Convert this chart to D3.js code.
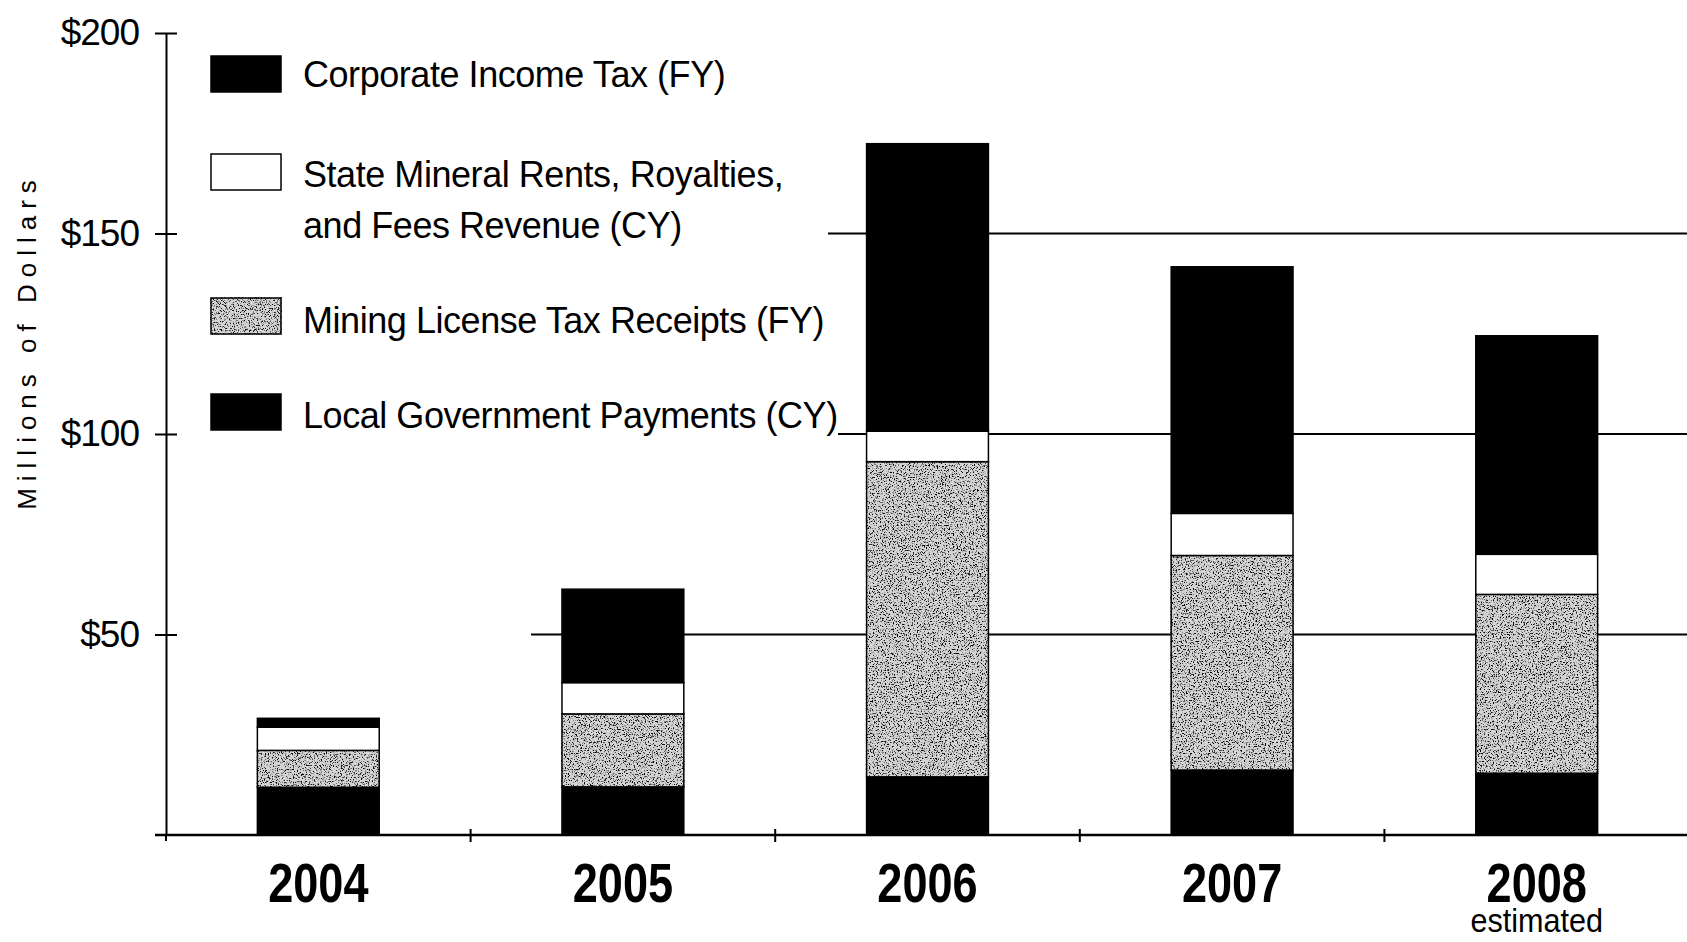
<!DOCTYPE html>
<html>
<head>
<meta charset="utf-8">
<script src="https://cdn.jsdelivr.net/npm/d3@7"></script>
<style>
body { margin: 0; background: #fff; }
text { font-family: "Liberation Sans", Arial, Helvetica, sans-serif; fill: #000; }
</style>
</head>
<body>
<svg id="chart" width="1687" height="942"></svg>
<script>
var years = ["2004", "2005", "2006", "2007", "2008"];
var yearNotes = ["", "", "", "", "estimated"];
// millions of dollars, stacked bottom to top
var localGov = [11.9, 12.0, 14.5, 16.2, 15.4];
var miningTax = [9.2, 18.2, 78.6, 53.5, 44.6];
var stateMineral = [5.8, 7.8, 7.6, 10.5, 10.0];
var corpTax = [2.2, 23.3, 71.7, 61.5, 54.5];
var yTicks = [50, 100, 150, 200];
var gridTicks = [50, 100, 150];
var seriesKeys = ["local", "mining", "state", "corp"];
var legendKeys = ["corp", "state", "mining", "local"];
var legendLabels = [["Corporate Income Tax (FY)"],
	["State Mineral Rents, Royalties,", "and Fees Revenue (CY)"],
	["Mining License Tax Receipts (FY)"],
	["Local Government Payments (CY)"]];

var width = 1687, height = 942;
var svg = d3.select("#chart");

var x = d3.scaleBand().domain(years).range([166, 1689]).paddingInner(0.6).paddingOuter(0.3);
var y = d3.scaleLinear().domain([0, 200]).range([835, 33]);

var fills = {corp: "#000", state: "#fff", mining: "#d4d4d4", local: "#000"};

// speckled, photocopy-like texture for the mining tax segments
var filt = svg.append("defs").append("filter")
	.attr("id", "speckle")
	.attr("x", -0.05).attr("y", -0.05).attr("width", 1.1).attr("height", 1.1)
	.attr("color-interpolation-filters", "sRGB");
filt.append("feTurbulence")
	.attr("type", "fractalNoise").attr("baseFrequency", 0.75).attr("numOctaves", 3).attr("seed", 7)
	.attr("result", "noise");
filt.append("feColorMatrix")
	.attr("in", "noise").attr("type", "matrix")
	.attr("values", "0 0 0 0 0  0 0 0 0 0  0 0 0 0 0  6 0 0 0 -3.2")
	.attr("result", "specks");
filt.append("feComposite")
	.attr("in", "specks").attr("in2", "SourceGraphic").attr("operator", "in")
	.attr("result", "clipped");
var merge = filt.append("feMerge");
merge.append("feMergeNode").attr("in", "SourceGraphic");
merge.append("feMergeNode").attr("in", "clipped");

// gridlines start to the right of the legend
var gridStart = {50: 531, 100: 838, 150: 828};
svg.append("g").selectAll("line")
	.data(gridTicks)
	.join("line")
	.attr("x1", function(d) { return gridStart[d]; })
	.attr("x2", width)
	.attr("y1", function(d) { return y(d); })
	.attr("y2", function(d) { return y(d); })
	.attr("stroke", "#000")
	.attr("stroke-width", 2);

var table = years.map(function(yr, i) {
	return {year: yr, local: localGov[i], mining: miningTax[i], state: stateMineral[i], corp: corpTax[i]};
});
var stacked = d3.stack().keys(seriesKeys)(table);

svg.append("g").selectAll("g")
	.data(stacked)
	.join("g")
	.attr("fill", function(d) { return fills[d.key]; })
	.attr("filter", function(d) { return d.key == "mining" ? "url(#speckle)" : null; })
	.selectAll("rect")
	.data(function(d) { return d; })
	.join("rect")
	.attr("x", function(d) { return x(d.data.year); })
	.attr("width", x.bandwidth())
	.attr("y", function(d) { return y(d[1]); })
	.attr("height", function(d) { return y(d[0]) - y(d[1]); })
	.attr("stroke", "#000")
	.attr("stroke-width", 1.5);

// y axis, ticks cross the line
var yAxis = svg.append("g")
	.attr("transform", "translate(166,0)")
	.call(d3.axisLeft(y).tickValues(yTicks).tickSize(11).tickSizeOuter(0).tickPadding(16)
		.tickFormat(function(d) { return "$" + d; }));
yAxis.attr("font-family", null).attr("font-size", null);
yAxis.select(".domain").attr("stroke", "#000").attr("stroke-width", 2);
yAxis.selectAll(".tick line").attr("x1", 11).attr("stroke", "#000").attr("stroke-width", 2);
yAxis.selectAll(".tick text").attr("font-size", 37).attr("letter-spacing", -1).attr("fill", "#000");
yAxis.append("line").attr("x1", 0).attr("x2", 0).attr("y1", y(0)).attr("y2", y(0) + 6)
	.attr("stroke", "#000").attr("stroke-width", 2);

// x axis with ticks between bars
var gap = x.step() - x.bandwidth();
svg.append("line")
	.attr("x1", 155).attr("x2", width)
	.attr("y1", y(0)).attr("y2", y(0))
	.attr("stroke", "#000").attr("stroke-width", 2.5);
svg.append("g").selectAll("line")
	.data(years.slice(1))
	.join("line")
	.attr("x1", function(d) { return x(d) - gap / 2; })
	.attr("x2", function(d) { return x(d) - gap / 2; })
	.attr("y1", y(0) - 6).attr("y2", y(0) + 7)
	.attr("stroke", "#000").attr("stroke-width", 2);

// condensed bold year labels
svg.append("g").selectAll("text")
	.data(years)
	.join("text")
	.attr("transform", function(d) { return "translate(" + (x(d) + x.bandwidth() / 2) + ",902) scale(0.82,1)"; })
	.attr("text-anchor", "middle")
	.attr("font-size", 55)
	.attr("font-weight", "bold")
	.text(function(d) { return d; });

svg.append("g").selectAll("text")
	.data(years)
	.join("text")
	.attr("transform", function(d) { return "translate(" + (x(d) + x.bandwidth() / 2) + ",932) scale(0.9,1)"; })
	.attr("text-anchor", "middle")
	.attr("font-size", 34)
	.text(function(d, i) { return yearNotes[i]; });

svg.append("text")
	.attr("transform", "translate(36,345) rotate(-90)")
	.attr("text-anchor", "middle")
	.attr("dx", 3.5)
	.attr("font-size", 26)
	.attr("letter-spacing", 7)
	.text("Millions of Dollars");

// legend
var swatchY = [56, 154, 298, 394];
var labelY = [[87], [187, 238], [333], [428]];
var legend = svg.append("g").selectAll("g")
	.data(legendKeys)
	.join("g");
legend.append("rect")
	.attr("x", 211)
	.attr("y", function(d, i) { return swatchY[i]; })
	.attr("width", 70)
	.attr("height", 36)
	.attr("fill", function(d) { return fills[d]; })
	.attr("filter", function(d) { return d == "mining" ? "url(#speckle)" : null; })
	.attr("stroke", "#000")
	.attr("stroke-width", 1.5);
legend.each(function(d, i) {
	d3.select(this).selectAll("text")
		.data(legendLabels[i])
		.join("text")
		.attr("x", 303)
		.attr("y", function(t, j) { return labelY[i][j]; })
		.attr("font-size", 36)
		.attr("letter-spacing", -0.45)
		.text(function(t) { return t; });
});
</script>
</body>
</html>
